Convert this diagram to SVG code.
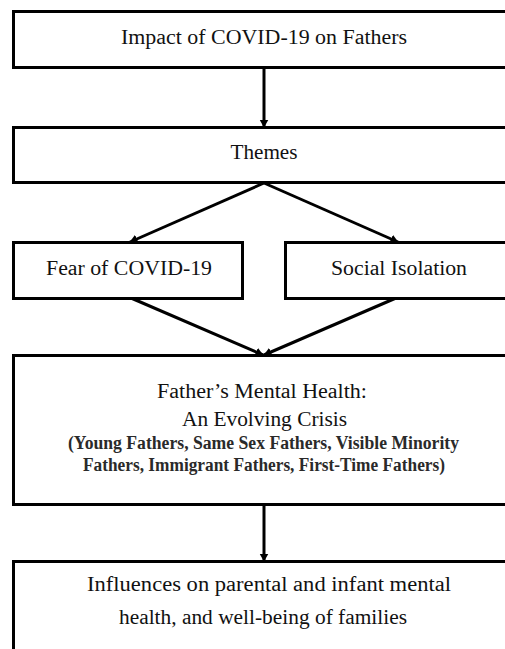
<svg xmlns="http://www.w3.org/2000/svg" width="505" height="649" viewBox="0 0 505 649">
<style>
.box{fill:#fff;stroke:#000;stroke-width:3}
.t{font-family:"Liberation Serif","Times New Roman",serif;fill:#111;text-anchor:middle;font-size:20px}
.s{font-size:18px;font-weight:bold;fill:#2a2a2a}
.edge{stroke:#000;stroke-width:3;fill:none;marker-end:url(#ah)}
</style>
<defs>
<marker id="ah" markerUnits="userSpaceOnUse" markerWidth="9" markerHeight="10" refX="7.5" refY="5" orient="auto">
<path d="M0,0.5 L8,5 L0,9.5 Z" fill="#000"/>
</marker>
</defs>
<rect width="505" height="649" fill="#fff"/>
<g id="connectors">
<line class="edge" x1="264" y1="68" x2="264" y2="127"/>
<line class="edge" x1="264" y1="183" x2="130" y2="242"/>
<line class="edge" x1="264" y1="183" x2="398" y2="242"/>
<line class="edge" x1="131" y1="298" x2="263" y2="355"/>
<line class="edge" x1="396" y1="298" x2="264" y2="355"/>
<line class="edge" x1="264" y1="505" x2="264" y2="561"/>
</g>
<g id="n-impact">
<rect class="box" x="13.5" y="11.5" width="505" height="56"/>
<text class="t" x="264" y="44" textLength="286" lengthAdjust="spacingAndGlyphs">Impact of COVID-19 on Fathers</text>
</g>
<g id="n-themes">
<rect class="box" x="13.5" y="127.5" width="505" height="55"/>
<text class="t" x="264" y="159" textLength="67" lengthAdjust="spacingAndGlyphs">Themes</text>
</g>
<g id="n-fear">
<rect class="box" x="13.5" y="242.5" width="229" height="56"/>
<text class="t" x="129" y="275" textLength="166" lengthAdjust="spacingAndGlyphs">Fear of COVID-19</text>
</g>
<g id="n-social">
<rect class="box" x="285.5" y="242.5" width="230" height="56"/>
<text class="t" x="399" y="275" textLength="136" lengthAdjust="spacingAndGlyphs">Social Isolation</text>
</g>
<g id="n-mental">
<rect class="box" x="13.5" y="355.5" width="505" height="149"/>
<text class="t" x="262" y="398" textLength="210" lengthAdjust="spacingAndGlyphs">Father’s Mental Health:</text>
<text class="t" x="264.5" y="426" textLength="165" lengthAdjust="spacingAndGlyphs">An Evolving Crisis</text>
<text class="t s" x="263.5" y="449" textLength="391" lengthAdjust="spacingAndGlyphs">(Young Fathers, Same Sex Fathers, Visible Minority</text>
<text class="t s" x="264" y="471" textLength="362" lengthAdjust="spacingAndGlyphs">Fathers, Immigrant Fathers, First-Time Fathers)</text>
</g>
<g id="n-influences">
<rect class="box" x="13.5" y="561.5" width="505" height="120"/>
<text class="t" x="269" y="591" textLength="364" lengthAdjust="spacingAndGlyphs">Influences on parental and infant mental</text>
<text class="t" x="263" y="624" textLength="288" lengthAdjust="spacingAndGlyphs">health, and well-being of families</text>
</g>
</svg>
